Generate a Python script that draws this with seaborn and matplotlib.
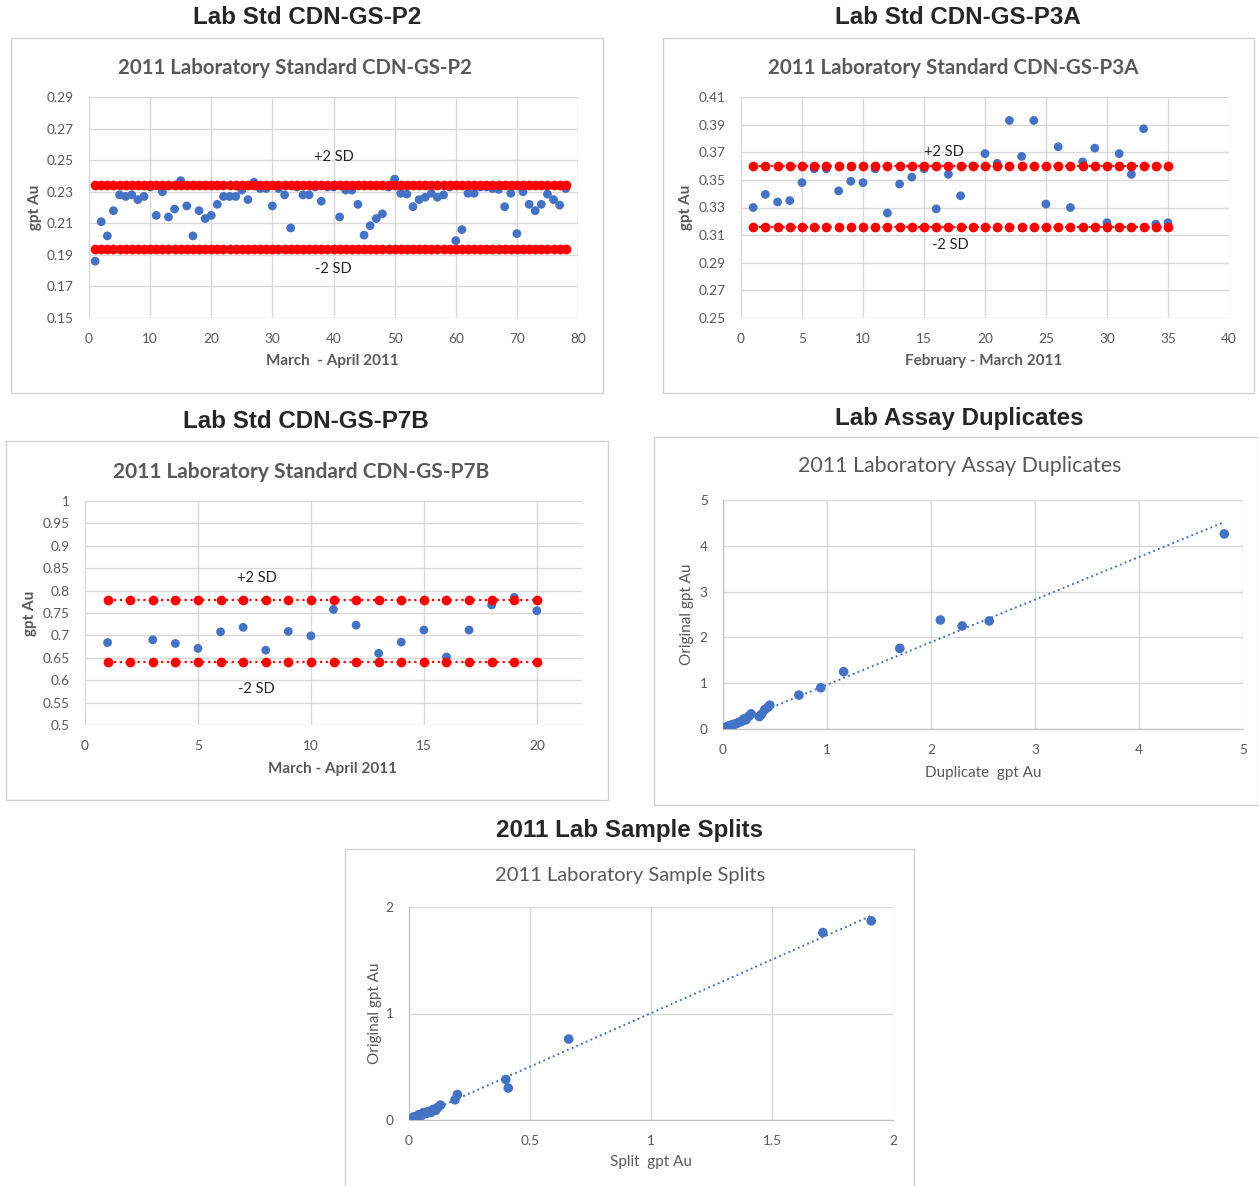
import numpy as np
import pandas as pd
import matplotlib
matplotlib.use('Agg')
import matplotlib.pyplot as plt
import seaborn as sns
from matplotlib.patches import Rectangle
from matplotlib.ticker import FuncFormatter

sns.set_style('white')
plt.rcParams['font.family'] = ['Lato', 'DejaVu Sans']

W, H = 1259, 1186
BLUE = '#4472c4'
RED = '#ff0000'
GRAY = '#595959'
GRID = '#d9d9d9'

# ---- data ----
p2_y = [0.186, 0.211, 0.202, 0.218, 0.228, 0.227, 0.228, 0.225, 0.227, 0.233,
        0.215, 0.230, 0.214, 0.219, 0.237, 0.221, 0.202, 0.218, 0.213, 0.215,
        0.222, 0.227, 0.227, 0.227, 0.231, 0.225, 0.236, 0.232, 0.232, 0.221,
        0.232, 0.228, 0.207, 0.233, 0.228, 0.228, 0.233, 0.224, 0.233, 0.233,
        0.214, 0.231, 0.231, 0.222, 0.2025, 0.2085, 0.213, 0.216, 0.233, 0.238,
        0.229, 0.2285, 0.2205, 0.225, 0.2265, 0.229, 0.2265, 0.228, 0.233, 0.199,
        0.206, 0.229, 0.229, 0.233, 0.233, 0.232, 0.2315, 0.2205, 0.229, 0.2035,
        0.230, 0.222, 0.218, 0.222, 0.2285, 0.225, 0.2215, 0.232]
p2_x = list(range(1, 79))
p2_hi, p2_lo = 0.234, 0.194

p3a_y = [0.330, 0.3395, 0.334, 0.335, 0.348, 0.358, 0.358, 0.342, 0.349, 0.348,
         0.358, 0.326, 0.347, 0.352, 0.358, 0.329, 0.354, 0.3385, 0.360, 0.369,
         0.362, 0.393, 0.367, 0.393, 0.3325, 0.374, 0.330, 0.363, 0.373, 0.319,
         0.369, 0.354, 0.387, 0.318, 0.319]
p3a_x = list(range(1, 36))
p3a_hi, p3a_lo = 0.360, 0.316

p7b_x = [1, 3, 4, 5, 6, 7, 8, 9, 10, 11, 12, 13, 14, 15, 16, 17, 18, 19, 20]
p7b_y = [0.684, 0.690, 0.682, 0.671, 0.708, 0.718, 0.667, 0.709, 0.699, 0.758,
         0.723, 0.660, 0.685, 0.712, 0.652, 0.712, 0.768, 0.785, 0.755]
p7b_ref_x = list(range(1, 21))
p7b_hi, p7b_lo = 0.780, 0.640

dup_x = [0.01, 0.02, 0.03, 0.04, 0.05, 0.06, 0.07, 0.08, 0.10, 0.12, 0.14, 0.16,
         0.18, 0.20, 0.22, 0.25, 0.27, 0.35, 0.37, 0.40, 0.43, 0.45,
         0.73, 0.94, 1.16, 1.70, 2.09, 2.30, 2.56, 4.82]
dup_y = [0.02, 0.01, 0.04, 0.03, 0.06, 0.05, 0.08, 0.07, 0.10, 0.11, 0.13, 0.15,
         0.17, 0.22, 0.20, 0.28, 0.33, 0.27, 0.32, 0.42, 0.47, 0.52,
         0.74, 0.90, 1.25, 1.76, 2.38, 2.25, 2.36, 4.26]

spl_x = [0.01, 0.02, 0.03, 0.04, 0.05, 0.06, 0.07, 0.08, 0.09, 0.10, 0.11, 0.12,
         0.13, 0.19, 0.20, 0.40, 0.41, 0.66, 1.71, 1.91]
spl_y = [0.01, 0.03, 0.02, 0.05, 0.04, 0.07, 0.06, 0.08, 0.07, 0.10, 0.09, 0.12,
         0.14, 0.19, 0.24, 0.38, 0.30, 0.76, 1.76, 1.87]

fig = plt.figure(figsize=(W / 100, H / 100), dpi=100)


def px_axes(x0, y0, x1, y1):
    return fig.add_axes([x0 / W, 1 - y1 / H, (x1 - x0) / W, (y1 - y0) / H])


def box(x0, y0, x1, y1):
    fig.add_artist(Rectangle((x0 / W, 1 - y1 / H), (x1 - x0) / W, (y1 - y0) / H,
                             transform=fig.transFigure, fill=False,
                             edgecolor='#d0d0d0', lw=1))


def ftext(x, y, s, **kw):
    fig.text(x / W, 1 - y / H, s, ha='center', va='center', **kw)


def style(ax, xt, yt, fmt_y=None, fmt_x=None, axis_lines=False):
    ax.set_xticks(xt)
    ax.set_yticks(yt)
    ax.grid(True, color=GRID, lw=1)
    ax.set_axisbelow(True)
    for s in ax.spines.values():
        s.set_visible(False)
    if axis_lines:
        for s in ('left', 'bottom'):
            ax.spines[s].set_visible(True)
            ax.spines[s].set_color('#bfbfbf')
    ax.tick_params(length=0, labelsize=9.8, labelcolor=GRAY)
    ax.tick_params(axis='y', pad=11)
    ax.tick_params(axis='x', pad=11)
    if fmt_y:
        ax.yaxis.set_major_formatter(FuncFormatter(fmt_y))
    if fmt_x:
        ax.xaxis.set_major_formatter(FuncFormatter(fmt_x))
    ax.set_xlabel('')
    ax.set_ylabel('')


def ref_line(ax, xs, yval, ls):
    sns.lineplot(x=xs, y=[yval] * len(xs), ax=ax, color=RED, marker='o',
                 markersize=7, markeredgewidth=0, linestyle=ls, lw=1.6,
                 zorder=4)


g = lambda v, p: f'{v:g}'
two = lambda v, p: f'{v:.2f}'
HEAD = dict(fontsize=17.4, fontweight='bold', family='Liberation Sans')
SD = dict(ha='center', va='center', fontsize=10.5, color='#222222')

# ---- Panel 1: CDN-GS-P2 ----
ftext(307, 18, 'Lab Std CDN-GS-P2', **HEAD)
box(11, 38, 603, 393)
ftext(295, 68, '2011 Laboratory Standard CDN-GS-P2', fontsize=14.7, fontweight='bold', color=GRAY)
ax = px_axes(89, 97, 578, 318)
sns.scatterplot(x=p2_x, y=p2_y, ax=ax, color=BLUE, s=40, edgecolor='none', zorder=3)
ref_line(ax, p2_x, p2_hi, '-')
ref_line(ax, p2_x, p2_lo, '-')
ax.set_xlim(0, 80)
ax.set_ylim(0.15, 0.29)
style(ax, range(0, 81, 10), np.arange(0.15, 0.2901, 0.02), fmt_y=two)
ax.text(40, 0.252, '+2 SD', **SD)
ax.text(40, 0.181, '-2 SD', **SD)
ftext(35, 207, 'gpt Au', rotation=90, fontsize=11, fontweight='bold', color=GRAY)
ftext(332, 361, 'March  - April 2011', fontsize=11, fontweight='bold', color=GRAY)

# ---- Panel 2: CDN-GS-P3A ----
ftext(958, 18, 'Lab Std CDN-GS-P3A', **HEAD)
box(663, 38, 1254, 393)
ftext(953, 68, '2011 Laboratory Standard CDN-GS-P3A', fontsize=14.8, fontweight='bold', color=GRAY)
ax = px_axes(741, 97, 1229, 318)
sns.scatterplot(x=p3a_x, y=p3a_y, ax=ax, color=BLUE, s=40, edgecolor='none', zorder=3)
ref_line(ax, p3a_x, p3a_hi, ':')
ref_line(ax, p3a_x, p3a_lo, ':')
ax.set_xlim(0, 40)
ax.set_ylim(0.25, 0.41)
style(ax, range(0, 41, 5), np.arange(0.25, 0.4101, 0.02), fmt_y=two)
ax.text(16.6, 0.370, '+2 SD', **SD)
ax.text(17.2, 0.303, '-2 SD', **SD)
ftext(686, 207, 'gpt Au', rotation=90, fontsize=11, fontweight='bold', color=GRAY)
ftext(984, 361, 'February - March 2011', fontsize=11, fontweight='bold', color=GRAY)

# ---- Panel 3: CDN-GS-P7B ----
ftext(306, 421, 'Lab Std CDN-GS-P7B', **HEAD)
box(6, 441, 608, 800)
ftext(301, 472, '2011 Laboratory Standard CDN-GS-P7B', fontsize=15, fontweight='bold', color=GRAY)
ax = px_axes(85, 501, 582, 725)
sns.scatterplot(x=p7b_x, y=p7b_y, ax=ax, color=BLUE, s=40, edgecolor='none', zorder=3)
ref_line(ax, p7b_ref_x, p7b_hi, ':')
ref_line(ax, p7b_ref_x, p7b_lo, ':')
ax.set_xlim(0, 22)
ax.set_ylim(0.5, 1.0)
style(ax, range(0, 21, 5), np.arange(0.5, 1.001, 0.05), fmt_y=lambda v, p: f'{round(v, 2):g}')
ax.text(7.6, 0.828, '+2 SD', **SD)
ax.text(7.6, 0.580, '-2 SD', **SD)
ftext(30, 613, 'gpt Au', rotation=90, fontsize=11, fontweight='bold', color=GRAY)
ftext(333, 769, 'March - April 2011', fontsize=11, fontweight='bold', color=GRAY)

# ---- Panel 4: assay duplicates ----
ftext(959, 419, 'Lab Assay Duplicates', **HEAD)
box(654, 437, 1259, 805)
ftext(960, 466, '2011 Laboratory Assay Duplicates', fontsize=15.4, color=GRAY)
ax = px_axes(723, 500, 1243, 729)
dup = pd.DataFrame({'dup': dup_x, 'orig': dup_y})
sns.regplot(data=dup, x='dup', y='orig', ax=ax, ci=None,
            scatter_kws=dict(color=BLUE, s=48, edgecolor='none', alpha=1, zorder=3),
            line_kws=dict(color=BLUE, lw=1.4, linestyle=':', zorder=2))
ax.set_xlim(0, 5)
ax.set_ylim(0, 5)
style(ax, range(0, 6), range(0, 6), axis_lines=True)
ftext(687, 614, 'Original gpt Au', rotation=90, fontsize=11, color=GRAY)
ftext(983, 773, 'Duplicate  gpt Au', fontsize=11, color=GRAY)

# ---- Panel 5: sample splits ----
ftext(629, 830, '2011 Lab Sample Splits', **HEAD)
box(345, 849, 914, 1190)
ftext(630, 875, '2011 Laboratory Sample Splits', fontsize=14.5, color=GRAY)
ax = px_axes(409, 907, 893, 1120)
spl = pd.DataFrame({'split': spl_x, 'orig': spl_y})
sns.regplot(data=spl, x='split', y='orig', ax=ax, ci=None,
            scatter_kws=dict(color=BLUE, s=48, edgecolor='none', alpha=1, zorder=3),
            line_kws=dict(color=BLUE, lw=1.4, linestyle=':', zorder=2))
ax.set_xlim(0, 2)
ax.set_ylim(0, 2)
style(ax, [0, 0.5, 1, 1.5, 2], [0, 1, 2], fmt_x=g, axis_lines=True)
ftext(375, 1013, 'Original gpt Au', rotation=90, fontsize=11, color=GRAY)
ftext(651, 1162, 'Split  gpt Au', fontsize=11, color=GRAY)

fig.savefig('out.png', dpi=100)
